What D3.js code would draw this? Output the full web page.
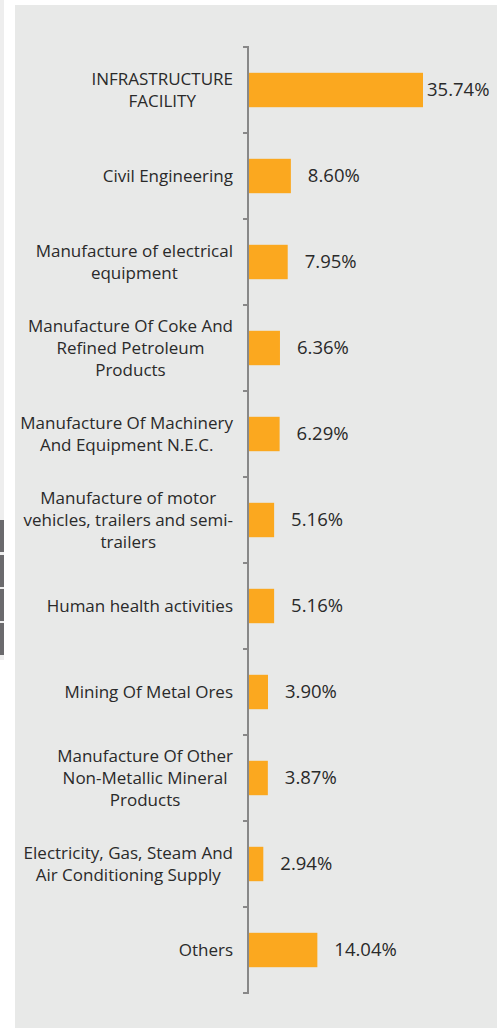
<!DOCTYPE html>
<html><head><meta charset="utf-8">
<script src="https://cdn.jsdelivr.net/npm/d3@7"></script>
<style>html,body{margin:0;padding:0;background:#fff;}svg{display:block;}</style>
</head><body>
<svg id="c" width="503" height="1028"></svg>
<script>
const categories = [
  "INFRASTRUCTURE\nFACILITY",
  "Civil Engineering",
  "Manufacture of electrical\nequipment",
  "Manufacture Of Coke And\nRefined Petroleum\nProducts",
  "Manufacture Of Machinery\nAnd Equipment N.E.C.",
  "Manufacture of motor\nvehicles, trailers and semi-\ntrailers",
  "Human health activities",
  "Mining Of Metal Ores",
  "Manufacture Of Other\nNon-Metallic Mineral\nProducts",
  "Electricity, Gas, Steam And\nAir Conditioning Supply",
  "Others"
];
const values = [35.74, 8.60, 7.95, 6.36, 6.29, 5.16, 5.16, 3.90, 3.87, 2.94, 14.04];
const valueLabels = ["35.74%","8.60%","7.95%","6.36%","6.29%","5.16%","5.16%","3.90%","3.87%","2.94%","14.04%"];

(function(){
const svg = d3.select("#c");
const font = "'Open Sans', 'Noto Sans', sans-serif";

svg.append("rect").attr("x",0).attr("y",0).attr("width",4).attr("height",660).attr("fill","#eeeeee");
[520,555,589,623].forEach(yy=>svg.append("rect").attr("x",0).attr("y",yy).attr("width",4).attr("height",32).attr("fill","#6b6a6d"));
svg.append("rect").attr("x",15).attr("y",5).attr("width",482).attr("height",1023).attr("fill","#e8e9e8");

const axisX = 249, y0 = 47, y1 = 993;
const y = d3.scaleBand().domain(d3.range(categories.length)).range([y0,y1]).paddingInner(0.6).paddingOuter(0.3);
const x = d3.scaleLinear().domain([0,35.74]).range([axisX, axisX+174]);

svg.append("g").selectAll("rect").data(values).join("rect")
  .attr("x", axisX).attr("y",(d,i)=>y(i)).attr("height", y.bandwidth())
  .attr("width", d=>x(d)-axisX).attr("fill","#fba81f");

const step = (y1-y0)/categories.length;
const ax = svg.append("g").attr("stroke","#888").attr("stroke-width",2).attr("fill","none");
ax.append("line").attr("x1",axisX-1).attr("x2",axisX-1).attr("y1",y0).attr("y2",y1);
d3.range(categories.length+1).forEach(i=>{
  const yy = y0 + i*step;
  ax.append("line").attr("x1",axisX-6).attr("x2",axisX).attr("y1",yy).attr("y2",yy);
});

const lh = 22, right = 233;
categories.forEach((c,i)=>{
  const lines = c.split("\n");
  const cy = y(i)+y.bandwidth()/2;
  const t = svg.append("text").attr("text-anchor","middle").attr("font-family",font)
    .attr("font-size",17).attr("fill","#2a2a2a");
  const spans = lines.map((l,k)=>t.append("tspan").attr("y", cy + (k-(lines.length-1)/2)*lh).attr("dy","0.35em").text(l));
  const maxW = d3.max(spans, s=>s.node().getComputedTextLength());
  spans.forEach(s=>s.attr("x", right - maxW/2));
});

values.forEach((v,i)=>{
  const cy = y(i)+y.bandwidth()/2;
  const t = svg.append("text").attr("font-family",font).attr("font-size",18.5).attr("fill","#2a2a2a")
    .attr("y",cy).attr("dy","0.35em").text(valueLabels[i]);
  let xx = x(v)+17;
  const w = t.node().getComputedTextLength();
  if (xx + w > 494) xx = x(v)+4;
  t.attr("x",xx);
});
})();
</script>
</body></html>
